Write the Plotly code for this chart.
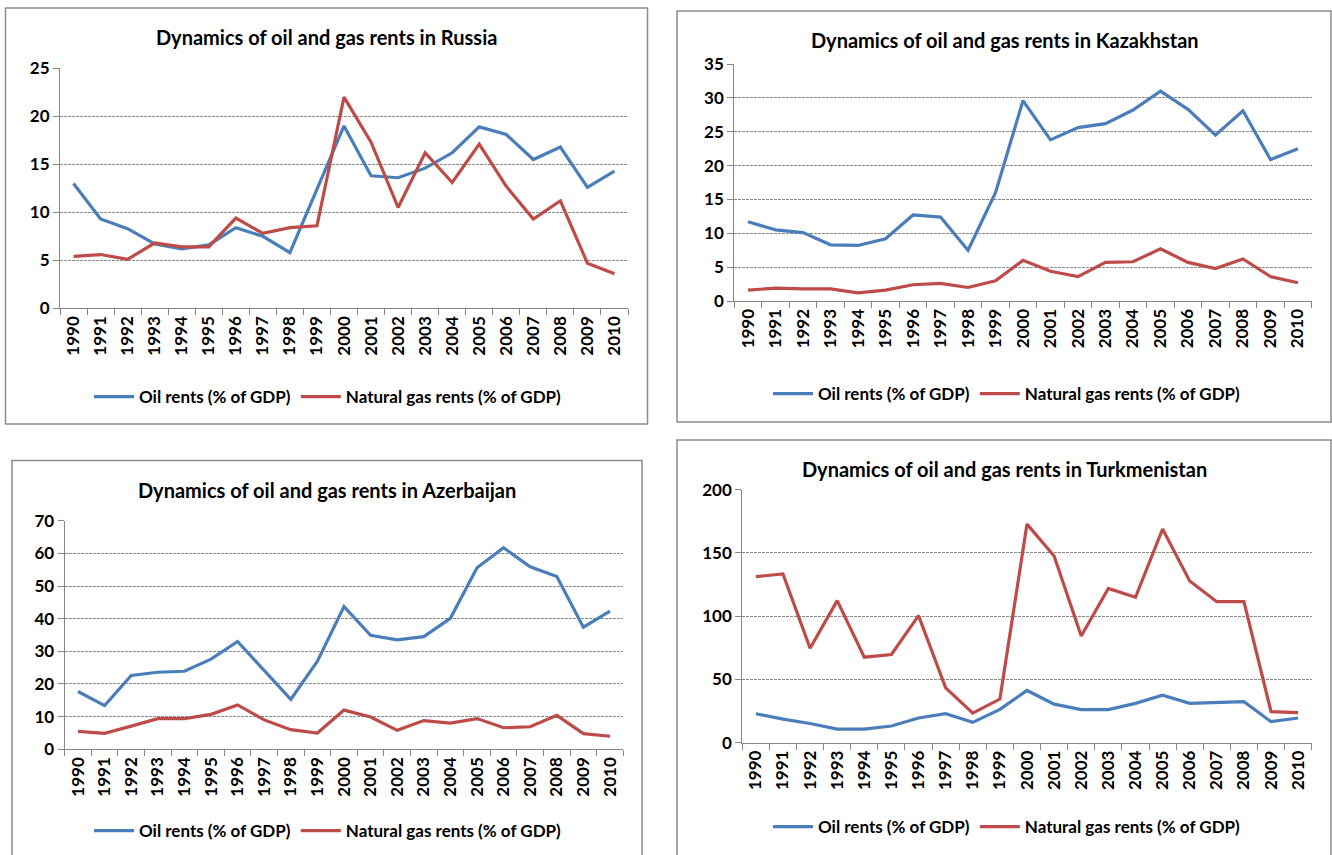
import plotly.graph_objects as go

W, H = 1332, 855

years = [str(y) for y in range(1990, 2011)]

russia_oil = [13.0, 9.3, 8.3, 6.7, 6.2, 6.6, 8.4, 7.5, 5.8, 12.5, 19.0, 13.8, 13.6, 14.6, 16.2, 18.9, 18.1, 15.5, 16.8, 12.6, 14.3]
russia_gas = [5.4, 5.6, 5.1, 6.8, 6.4, 6.4, 9.4, 7.8, 8.4, 8.6, 22.0, 17.3, 10.5, 16.2, 13.1, 17.1, 12.7, 9.3, 11.2, 4.7, 3.6]

kaz_oil = [11.7, 10.5, 10.1, 8.3, 8.2, 9.2, 12.7, 12.4, 7.5, 16.0, 29.6, 23.8, 25.6, 26.2, 28.2, 31.0, 28.3, 24.5, 28.1, 20.9, 22.5]
kaz_gas = [1.6, 1.9, 1.8, 1.8, 1.2, 1.6, 2.4, 2.6, 2.0, 3.0, 6.0, 4.4, 3.6, 5.7, 5.8, 7.7, 5.7, 4.8, 6.2, 3.6, 2.7]

aze_oil = [17.7, 13.4, 22.6, 23.6, 23.9, 27.6, 33.0, 24.2, 15.3, 27.0, 43.7, 34.9, 33.5, 34.5, 40.1, 55.6, 61.7, 55.9, 52.9, 37.4, 42.3]
aze_gas = [5.5, 4.9, 7.1, 9.4, 9.4, 10.7, 13.6, 9.0, 6.0, 5.0, 12.0, 9.9, 5.8, 8.8, 8.0, 9.4, 6.6, 6.9, 10.4, 4.8, 4.0]

tkm_oil = [22.9, 18.6, 15.2, 10.8, 10.8, 13.2, 19.5, 22.9, 16.1, 26.3, 41.3, 30.5, 26.1, 26.1, 31.1, 37.6, 31.1, 31.6, 32.4, 16.6, 19.5]
tkm_gas = [131.3, 133.4, 74.7, 112.3, 67.6, 69.7, 100.5, 43.4, 23.4, 34.5, 172.8, 147.6, 84.4, 122.0, 114.9, 168.9, 127.8, 111.5, 111.5, 24.6, 23.8]

titles = [
    "Dynamics of oil and gas rents in Russia",
    "Dynamics of oil and gas rents in Kazakhstan",
    "Dynamics of oil and gas rents in Azerbaijan",
    "Dynamics of oil and gas rents in Turkmenistan",
]
oil_name = "Oil rents (% of GDP)"
gas_name = "Natural gas rents (% of GDP)"

series = [(russia_oil, russia_gas), (kaz_oil, kaz_gas), (aze_oil, aze_gas), (tkm_oil, tkm_gas)]
y_max = [25, 35, 70, 200]
y_dtick = [5, 5, 10, 50]

# layout geometry in pixels
plot_px = [  # x0, x1, y_top, y_bottom
    (60.0, 628.0, 68.3, 308.3),
    (734.3, 1311.7, 64.0, 301.0),
    (64.7, 623.3, 520.7, 749.3),
    (742.3, 1311.7, 489.7, 742.7),
]
border_px = [
    (5.5, 647.5, 8, 424),
    (677, 1331, 11, 422),
    (12, 642, 460.5, 860),
    (677, 1331, 440, 860),
]
title_px = [(326, 37), (1005, 40), (327, 490), (1005, 469)]
legend_px = [(328, 397), (1007, 394), (328, 831), (1007, 827)]

BLUE = "#4A7EBB"
RED = "#BE4B48"
FONT = "Lato"
AXIS_GRAY = "#868686"

fig = go.Figure()
layout = dict(
    width=W, height=H, autosize=False,
    margin=dict(l=0, r=0, t=0, b=0, pad=0, autoexpand=False),
    paper_bgcolor="white", plot_bgcolor="white",
    font=dict(family=FONT, color="black", size=15, weight="bold"),
    shapes=[], annotations=[],
)

def px2x(p):
    return p / W

def px2y(p):
    return 1 - p / H

for i in range(4):
    n = "" if i == 0 else str(i + 1)
    leg = "legend" if i == 0 else f"legend{i + 1}"
    oil, gas = series[i]
    fig.add_trace(go.Scatter(x=years, y=oil, name=oil_name, mode="lines",
                             line=dict(color=BLUE, width=3.2), xaxis="x" + n, yaxis="y" + n,
                             legend=leg))
    fig.add_trace(go.Scatter(x=years, y=gas, name=gas_name, mode="lines",
                             line=dict(color=RED, width=3.2), xaxis="x" + n, yaxis="y" + n,
                             legend=leg))
    x0, x1, yt, yb = plot_px[i]
    layout["xaxis" + n] = dict(
        domain=[px2x(x0), px2x(x1)], anchor="y" + n, type="category",
        range=[-0.5, 20.5], tickangle=-90, showgrid=False, automargin=False,
        showline=True, linecolor=AXIS_GRAY, linewidth=1.2,
        ticks="outside", tickson="boundaries", ticklen=6, tickcolor=AXIS_GRAY,
        tickfont=dict(family=FONT, size=17, color="black", weight="bold"),
        fixedrange=True,
    )
    layout["yaxis" + n] = dict(
        domain=[px2y(yb), px2y(yt)], anchor="x" + n, automargin=False,
        range=[0, y_max[i]], dtick=y_dtick[i], tick0=0,
        showline=True, linecolor=AXIS_GRAY, linewidth=1.2,
        ticks="outside", ticklen=6, tickcolor=AXIS_GRAY,
        showgrid=True, gridcolor="#8a8a8a", gridwidth=1, griddash="3px,1px",
        zeroline=False,
        tickfont=dict(family=FONT, size=17, color="black", weight="bold"),
        fixedrange=True,
    )
    bx0, bx1, by0, by1 = border_px[i]
    layout["shapes"].append(dict(type="rect", xref="paper", yref="paper",
                                 x0=px2x(bx0), x1=px2x(bx1), y0=px2y(by1), y1=px2y(by0),
                                 line=dict(color="#8c8c8c", width=1.5), layer="below"))
    tx, ty = title_px[i]
    layout["annotations"].append(dict(text=titles[i], xref="paper", yref="paper",
                                      x=px2x(tx), y=px2y(ty), xanchor="center", yanchor="middle",
                                      showarrow=False,
                                      font=dict(family=FONT, size=20, color="black", weight="bold")))
    lx, ly = legend_px[i]
    layout[leg] = dict(orientation="h", x=px2x(lx), y=px2y(ly), xanchor="center", yanchor="middle",
                       bgcolor="rgba(0,0,0,0)",
                       font=dict(family=FONT, size=17, color="black", weight="bold"),
                       itemwidth=40, tracegroupgap=0)

fig.update_layout(**layout)
fig.write_html(
    "out.html",
    config={"displayModeBar": False, "responsive": False},
    post_script="document.body.style.margin='0';document.body.style.padding='0';"
                "document.documentElement.style.overflow='hidden';",
)
